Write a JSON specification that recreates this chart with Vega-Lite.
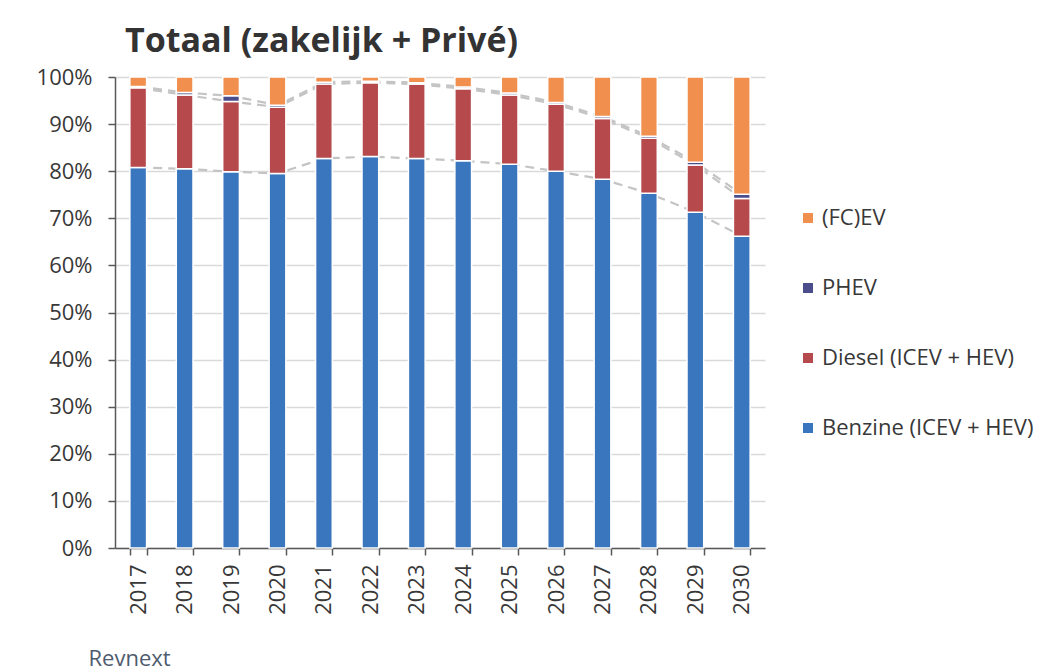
{
  "$schema": "https://vega.github.io/schema/vega-lite/v6.json",
  "width": 650,
  "height": 471,
  "autosize": {"type": "none"},
  "padding": {"left": 115, "top": 77, "right": 287, "bottom": 122},
  "background": "white",
  "config": {
    "view": {"stroke": null},
    "axisY": {
      "title": null,
      "values": [0, 10, 20, 30, 40, 50, 60, 70, 80, 90, 100],
      "labelExpr": "datum.value + '%'",
      "labelFont": "Open Sans",
      "labelFontSize": 22,
      "labelColor": "#383838",
      "labelPadding": 16,
      "tickSize": 7,
      "tickWidth": 1.5,
      "tickColor": "#595959",
      "domainColor": "#595959",
      "domainWidth": 1.5,
      "grid": true,
      "gridColor": "#d9d9d9",
      "gridWidth": 1.5
    }
  },
  "title": {
    "text": "Totaal (zakelijk + Privé)",
    "anchor": "start",
    "frame": "group",
    "font": "Open Sans",
    "fontSize": 34,
    "fontWeight": "bold",
    "color": "#333333",
    "dx": 10,
    "offset": 7
  },
  "data": {
    "values": [
      {"year": "2017", "type": "Benzine (ICEV + HEV)", "value": 80.8},
      {"year": "2017", "type": "Diesel (ICEV + HEV)", "value": 16.9},
      {"year": "2017", "type": "PHEV", "value": 0.3},
      {"year": "2017", "type": "(FC)EV", "value": 2.0},
      {"year": "2018", "type": "Benzine (ICEV + HEV)", "value": 80.5},
      {"year": "2018", "type": "Diesel (ICEV + HEV)", "value": 15.7},
      {"year": "2018", "type": "PHEV", "value": 0.5},
      {"year": "2018", "type": "(FC)EV", "value": 3.3},
      {"year": "2019", "type": "Benzine (ICEV + HEV)", "value": 79.9},
      {"year": "2019", "type": "Diesel (ICEV + HEV)", "value": 14.9},
      {"year": "2019", "type": "PHEV", "value": 1.2},
      {"year": "2019", "type": "(FC)EV", "value": 4.0},
      {"year": "2020", "type": "Benzine (ICEV + HEV)", "value": 79.5},
      {"year": "2020", "type": "Diesel (ICEV + HEV)", "value": 14.1},
      {"year": "2020", "type": "PHEV", "value": 0.4},
      {"year": "2020", "type": "(FC)EV", "value": 6.0},
      {"year": "2021", "type": "Benzine (ICEV + HEV)", "value": 82.7},
      {"year": "2021", "type": "Diesel (ICEV + HEV)", "value": 15.8},
      {"year": "2021", "type": "PHEV", "value": 0.4},
      {"year": "2021", "type": "(FC)EV", "value": 1.1},
      {"year": "2022", "type": "Benzine (ICEV + HEV)", "value": 83.1},
      {"year": "2022", "type": "Diesel (ICEV + HEV)", "value": 15.7},
      {"year": "2022", "type": "PHEV", "value": 0.3},
      {"year": "2022", "type": "(FC)EV", "value": 0.9},
      {"year": "2023", "type": "Benzine (ICEV + HEV)", "value": 82.7},
      {"year": "2023", "type": "Diesel (ICEV + HEV)", "value": 15.8},
      {"year": "2023", "type": "PHEV", "value": 0.3},
      {"year": "2023", "type": "(FC)EV", "value": 1.2},
      {"year": "2024", "type": "Benzine (ICEV + HEV)", "value": 82.2},
      {"year": "2024", "type": "Diesel (ICEV + HEV)", "value": 15.3},
      {"year": "2024", "type": "PHEV", "value": 0.4},
      {"year": "2024", "type": "(FC)EV", "value": 2.1},
      {"year": "2025", "type": "Benzine (ICEV + HEV)", "value": 81.5},
      {"year": "2025", "type": "Diesel (ICEV + HEV)", "value": 14.7},
      {"year": "2025", "type": "PHEV", "value": 0.4},
      {"year": "2025", "type": "(FC)EV", "value": 3.4},
      {"year": "2026", "type": "Benzine (ICEV + HEV)", "value": 80.0},
      {"year": "2026", "type": "Diesel (ICEV + HEV)", "value": 14.2},
      {"year": "2026", "type": "PHEV", "value": 0.4},
      {"year": "2026", "type": "(FC)EV", "value": 5.4},
      {"year": "2027", "type": "Benzine (ICEV + HEV)", "value": 78.3},
      {"year": "2027", "type": "Diesel (ICEV + HEV)", "value": 12.9},
      {"year": "2027", "type": "PHEV", "value": 0.4},
      {"year": "2027", "type": "(FC)EV", "value": 8.4},
      {"year": "2028", "type": "Benzine (ICEV + HEV)", "value": 75.3},
      {"year": "2028", "type": "Diesel (ICEV + HEV)", "value": 11.7},
      {"year": "2028", "type": "PHEV", "value": 0.4},
      {"year": "2028", "type": "(FC)EV", "value": 12.6},
      {"year": "2029", "type": "Benzine (ICEV + HEV)", "value": 71.3},
      {"year": "2029", "type": "Diesel (ICEV + HEV)", "value": 10.0},
      {"year": "2029", "type": "PHEV", "value": 0.6},
      {"year": "2029", "type": "(FC)EV", "value": 18.1},
      {"year": "2030", "type": "Benzine (ICEV + HEV)", "value": 66.2},
      {"year": "2030", "type": "Diesel (ICEV + HEV)", "value": 8.0},
      {"year": "2030", "type": "PHEV", "value": 0.9},
      {"year": "2030", "type": "(FC)EV", "value": 24.9}
    ]
  },
  "transform": [
    {"calculate": "indexof(['Benzine (ICEV + HEV)','Diesel (ICEV + HEV)','PHEV','(FC)EV'], datum.type)", "as": "ord"}
  ],
  "encoding": {
    "x": {
      "field": "year",
      "type": "ordinal",
      "scale": {"paddingInner": 0.64, "paddingOuter": 0.32},
      "axis": {
        "title": "Revnext",
        "labelAngle": -90,
        "labelFont": "Open Sans",
        "labelFontSize": 22,
        "labelColor": "#383838",
        "labelPadding": 9,
        "tickBand": "extent",
        "tickSize": 7,
        "tickWidth": 1.5,
        "tickColor": "#595959",
        "domainColor": "#595959",
        "domainWidth": 1.5,
        "titleAnchor": "start",
        "titleAlign": "left",
        "titleBaseline": "alphabetic",
        "titleX": -27,
        "titleY": 117,
        "titleFont": "Open Sans",
        "titleFontSize": 22,
        "titleFontWeight": "normal",
        "titleColor": "#4f5b6e"
      }
    }
  },
  "layer": [
    {
      "transform": [
        {"window": [{"op": "sum", "field": "value", "as": "cum"}], "groupby": ["year"], "sort": [{"field": "ord", "order": "ascending"}], "frame": [null, 0]},
        {"filter": "datum.ord < 3"}
      ],
      "mark": {"type": "line", "color": "#c4c4c4", "strokeWidth": 2.2, "strokeDash": [9, 6]},
      "encoding": {
        "y": {"field": "cum", "type": "quantitative", "scale": {"domain": [0, 100]}},
        "detail": {"field": "type"}
      }
    },
    {
      "mark": {"type": "bar", "stroke": "white", "strokeWidth": 1.5},
      "encoding": {
        "y": {
          "field": "value",
          "type": "quantitative",
          "stack": "zero",
          "scale": {"domain": [0, 100]}
        },
        "color": {
          "field": "type",
          "type": "nominal",
          "scale": {
            "domain": ["(FC)EV", "PHEV", "Diesel (ICEV + HEV)", "Benzine (ICEV + HEV)"],
            "range": ["#F08F4E", "#4B4C8C", "#B5494C", "#3A76BE"]
          },
          "legend": {
            "title": null,
            "orient": "none",
            "legendX": 682,
            "legendY": 130,
            "padding": 0,
            "symbolType": "square",
            "symbolSize": 100,
            "symbolStrokeWidth": 0,
            "labelFont": "Open Sans",
            "labelFontSize": 22,
            "labelLimit": 0,
            "labelColor": "#383838",
            "labelOffset": 3,
            "rowPadding": 48
          }
        },
        "order": {"field": "ord", "sort": "ascending"}
      }
    }
  ]
}
